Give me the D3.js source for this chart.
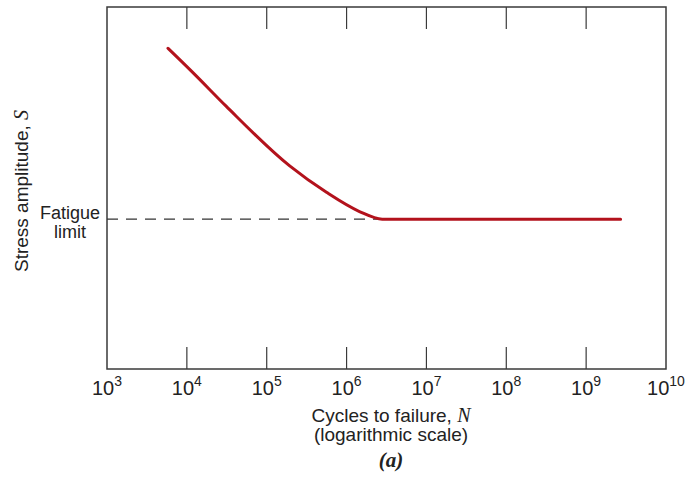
<!DOCTYPE html>
<html>
<head>
<meta charset="utf-8">
<script src="https://cdn.jsdelivr.net/npm/d3@7"></script>
<style>
  body { margin: 0; background: #fff; }
  text { font-family: "Liberation Sans", Arial, sans-serif; fill: #222; }
</style>
</head>
<body>
<svg id="chart" width="690" height="483"></svg>
<script>
// S-N curve, cycles on a log axis, stress in relative units
const cycles = [5.8e3, 1.2e4, 3.1e4, 1.94e5, 5.6e5, 1.45e6, 2.8e6, 2.7e9];
const stress = [88.6, 81.8, 72.6, 56.1, 48.8, 43.5, 41.4, 41.4];
const fatigueLimit = 41.4;
const tickExps = [3, 4, 5, 6, 7, 8, 9, 10];

const svg = d3.select("svg#chart");
const margin = { top: 7, right: 24, bottom: 114, left: 107 };
const width = +svg.attr("width") - margin.left - margin.right;
const height = +svg.attr("height") - margin.top - margin.bottom;

const x = d3.scaleLog().domain([1e3, 1e10]).range([0, width]);
const y = d3.scaleLinear().domain([0, 100]).range([height, 0]);

const g = svg.append("g").attr("transform", `translate(${margin.left},${margin.top})`);

// frame
g.append("rect")
  .attr("width", width).attr("height", height)
  .attr("fill", "none").attr("stroke", "#3a3a3a").attr("stroke-width", 1.5);

// inner ticks top and bottom
const tickVals = tickExps.slice(1, -1).map(e => Math.pow(10, e));
g.selectAll("line.tb")
  .data(tickVals)
  .join("line")
  .attr("class", "tb")
  .attr("x1", d => x(d)).attr("x2", d => x(d))
  .attr("y1", height).attr("y2", height - 22)
  .attr("stroke", "#3a3a3a").attr("stroke-width", 1.2);
g.selectAll("line.tt")
  .data(tickVals)
  .join("line")
  .attr("class", "tt")
  .attr("x1", d => x(d)).attr("x2", d => x(d))
  .attr("y1", 0).attr("y2", 22)
  .attr("stroke", "#3a3a3a").attr("stroke-width", 1.2);

// tick labels 10^n
const lbl = g.selectAll("text.tick")
  .data(tickExps)
  .join("text")
  .attr("class", "tick")
  .attr("x", d => x(Math.pow(10, d)))
  .attr("y", height + 26)
  .attr("text-anchor", "middle")
  .style("font-size", "20px");
lbl.append("tspan").text("10");
lbl.append("tspan")
  .attr("dy", -9)
  .style("font-size", "14px")
  .text(d => d);

// fatigue limit dashed line
g.append("line")
  .attr("x1", 0).attr("x2", x(cycles[6]))
  .attr("y1", y(fatigueLimit)).attr("y2", y(fatigueLimit))
  .attr("stroke", "#333").attr("stroke-width", 1.2)
  .attr("stroke-dasharray", "11,8");

// S-N curve
const line = d3.line()
  .x((d, i) => x(d))
  .y((d, i) => y(stress[i]))
  .curve(d3.curveMonotoneX);
g.append("path")
  .datum(cycles)
  .attr("d", line)
  .attr("fill", "none")
  .attr("stroke", "#b3121c")
  .attr("stroke-width", 3)
  .attr("stroke-linecap", "round");

// labels
const fl = svg.append("text")
  .attr("x", 70).attr("y", 219)
  .attr("text-anchor", "middle")
  .style("font-size", "18px");
fl.append("tspan").attr("x", 70).text("Fatigue");
fl.append("tspan").attr("x", 70).attr("dy", 19).text("limit");

const yl = svg.append("text")
  .attr("transform", `translate(28,${margin.top + height / 2 + 3}) rotate(-90)`)
  .attr("text-anchor", "middle")
  .style("font-size", "19px");
yl.append("tspan").text("Stress amplitude, ");
yl.append("tspan").style("font-family", "'Liberation Serif', serif").style("font-style", "italic").style("font-size", "20px").text("S");

const xl = svg.append("text")
  .attr("x", 391).attr("y", 422)
  .attr("text-anchor", "middle")
  .style("font-size", "19px");
xl.append("tspan").text("Cycles to failure, ");
xl.append("tspan").style("font-family", "'Liberation Serif', serif").style("font-style", "italic").style("font-size", "20px").text("N");

svg.append("text")
  .attr("x", 391).attr("y", 441)
  .attr("text-anchor", "middle")
  .style("font-size", "19px")
  .text("(logarithmic scale)");

svg.append("text")
  .attr("x", 391).attr("y", 467)
  .attr("text-anchor", "middle")
  .style("font-family", "'Liberation Serif', serif")
  .style("font-style", "italic").style("font-weight", "bold")
  .style("font-size", "21px")
  .text("(a)");
</script>
</body>
</html>
